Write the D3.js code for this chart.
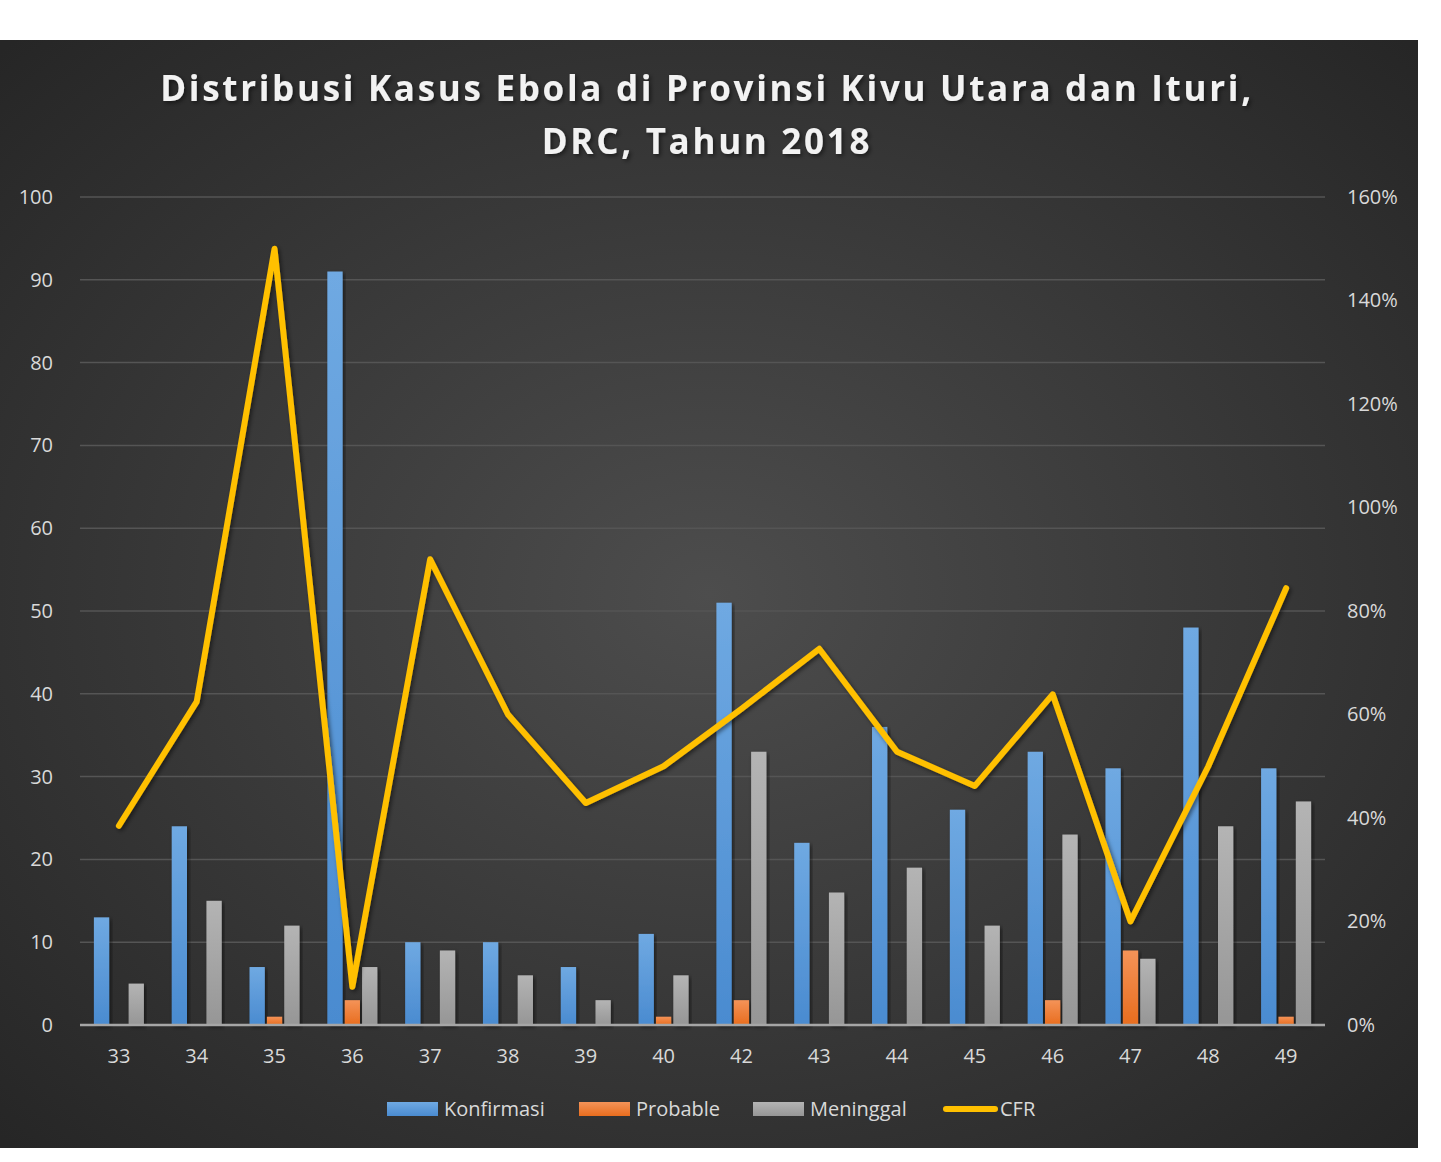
<!DOCTYPE html>
<html>
<head>
<meta charset="utf-8">
<script src="https://cdn.jsdelivr.net/npm/d3@7"></script>
<style>
  body { margin: 0; background: #fff; }
  text { font-family: "Open Sans", "Noto Sans", sans-serif; }
</style>
</head>
<body>
<div id="chart"></div>
<script>
// Chart data
var weeks = ["33", "34", "35", "36", "37", "38", "39", "40", "42", "43", "44", "45", "46", "47", "48", "49"];
var konfirmasi = [13, 24, 7, 91, 10, 10, 7, 11, 51, 22, 36, 26, 33, 31, 48, 31];
var probable = [0, 0, 1, 3, 0, 0, 0, 1, 3, 0, 0, 0, 3, 9, 0, 1];
var meninggal = [5, 15, 12, 7, 9, 6, 3, 6, 33, 16, 19, 12, 23, 8, 24, 27];
var cfr = [0.385, 0.625, 1.50, 0.074, 0.90, 0.60, 0.429, 0.50, 0.611, 0.727, 0.528, 0.462, 0.639, 0.20, 0.50, 0.844];
var leftTicks = [0, 10, 20, 30, 40, 50, 60, 70, 80, 90, 100];
var rightTicks = [0, 0.2, 0.4, 0.6, 0.8, 1.0, 1.2, 1.4, 1.6];
var seriesNames = ["Konfirmasi", "Probable", "Meninggal"];

var svgWidth = 1441;
var svgHeight = 1162;

var margin = { top: 197, right: 116, bottom: 137, left: 80 };
var width = svgWidth - margin.left - margin.right;
var height = svgHeight - margin.top - margin.bottom;

var svg = d3.select("#chart")
    .append("svg")
    .attr("width", svgWidth)
    .attr("height", svgHeight);

var defs = svg.append("defs");

// Background radial gradient
var bg = defs.append("radialGradient")
    .attr("id", "bg")
    .attr("cx", "50%").attr("cy", "50%").attr("r", "70%");
bg.append("stop").attr("offset", "0%").attr("stop-color", "#4d4d4d");
bg.append("stop").attr("offset", "100%").attr("stop-color", "#262626");

// Bar gradients
var barColors = {
    Konfirmasi: ["#6fa9e2", "#4a8bd0"],
    Probable: ["#f49358", "#e86d1e"],
    Meninggal: ["#b4b4b4", "#969696"]
};
seriesNames.forEach(function(name) {
    var g = defs.append("linearGradient")
        .attr("id", "grad-" + name)
        .attr("x1", 0).attr("y1", 0).attr("x2", 0).attr("y2", 1);
    g.append("stop").attr("offset", "0%").attr("stop-color", barColors[name][0]);
    g.append("stop").attr("offset", "100%").attr("stop-color", barColors[name][1]);
});

var shadow = defs.append("filter").attr("id", "shadow")
    .attr("x", "-20%").attr("y", "-20%").attr("width", "140%").attr("height", "140%");
shadow.append("feDropShadow")
    .attr("dx", 2).attr("dy", 2).attr("stdDeviation", 2)
    .attr("flood-color", "#000").attr("flood-opacity", 0.5);

svg.append("rect")
    .attr("x", 0).attr("y", 40)
    .attr("width", 1418).attr("height", 1108)
    .attr("fill", "url(#bg)");

// Title
var title = svg.append("text")
    .attr("text-anchor", "middle")
    .attr("fill", "#f2f2f2")
    .attr("font-size", "35px")
    .attr("font-weight", "bold")
    .attr("letter-spacing", "2.7px")
    .attr("filter", "url(#shadow)");
title.append("tspan").attr("x", 707).attr("y", 101)
    .text("Distribusi Kasus Ebola di Provinsi Kivu Utara dan Ituri,");
title.append("tspan").attr("x", 707).attr("y", 154)
    .text("DRC, Tahun 2018");

var chartGroup = svg.append("g")
    .attr("transform", `translate(${margin.left}, ${margin.top})`);

// Scales
var x0 = d3.scaleBand()
    .domain(weeks)
    .range([0, width]);

var x1 = d3.scaleBand()
    .domain(seriesNames)
    .range([-25, 25])
    .paddingInner(0.12);

var yLeft = d3.scaleLinear().domain([0, 100]).range([height, 0]);
var yRight = d3.scaleLinear().domain([0, 1.6]).range([height, 0]);

// Gridlines
chartGroup.append("g")
    .selectAll("line")
    .data(leftTicks.slice(1))
    .enter()
    .append("line")
    .attr("x1", 0).attr("x2", width)
    .attr("y1", d => yLeft(d)).attr("y2", d => yLeft(d))
    .attr("stroke", "#555555")
    .attr("stroke-width", 1.5);

// Axes
var leftAxis = d3.axisLeft(yLeft).tickValues(leftTicks).tickSize(0).tickPadding(27);
var rightAxis = d3.axisRight(yRight).tickValues(rightTicks).tickSize(0).tickPadding(22)
    .tickFormat(d3.format(".0%"));
var bottomAxis = d3.axisBottom(x0).tickSize(0).tickPadding(24);

var gl = chartGroup.append("g").call(leftAxis);
var gr = chartGroup.append("g").attr("transform", `translate(${width}, 0)`).call(rightAxis);
var gb = chartGroup.append("g").attr("transform", `translate(0, ${height})`).call(bottomAxis);

[gl, gr, gb].forEach(function(g) {
    g.select(".domain").remove();
    g.selectAll("text")
        .attr("fill", "#d9d9d9")
        .attr("font-size", "20px")
        .attr("font-family", "'Open Sans', sans-serif");
});

// Bars
var barData = weeks.map(function(w, i) {
    return [
        { week: w, key: "Konfirmasi", value: konfirmasi[i] },
        { week: w, key: "Probable", value: probable[i] },
        { week: w, key: "Meninggal", value: meninggal[i] }
    ];
});

chartGroup.append("g")
    .selectAll("g")
    .data(barData)
    .enter()
    .append("g")
    .attr("transform", d => `translate(${x0(d[0].week) + x0.bandwidth() / 2}, 0)`)
    .selectAll("rect")
    .data(d => d.filter(b => b.value > 0))
    .enter()
    .append("rect")
    .attr("x", d => x1(d.key))
    .attr("width", x1.bandwidth())
    .attr("y", d => yLeft(d.value))
    .attr("height", d => height - yLeft(d.value))
    .attr("fill", d => "url(#grad-" + d.key + ")")
    .attr("filter", "url(#shadow)");

// Baseline
chartGroup.append("line")
    .attr("x1", 0).attr("x2", width)
    .attr("y1", height).attr("y2", height)
    .attr("stroke", "#a6a6a6")
    .attr("stroke-width", 2.5);

// CFR line
var line = d3.line()
    .x((d, i) => x0(weeks[i]) + x0.bandwidth() / 2)
    .y(d => yRight(d));

chartGroup.append("path")
    .datum(cfr)
    .attr("d", line)
    .attr("fill", "none")
    .attr("stroke", "#ffc000")
    .attr("stroke-width", 6)
    .attr("stroke-linejoin", "round")
    .attr("stroke-linecap", "round")
    .attr("filter", "url(#shadow)");

// Legend
var legend = svg.append("g").attr("transform", "translate(0, 1109)");
var legendItems = [
    { name: "Konfirmasi", x: 387, type: "bar" },
    { name: "Probable", x: 579, type: "bar" },
    { name: "Meninggal", x: 753, type: "bar" },
    { name: "CFR", x: 943, type: "line" }
];
legendItems.forEach(function(item) {
    if (item.type === "bar") {
        legend.append("rect")
            .attr("x", item.x).attr("y", -7)
            .attr("width", 51).attr("height", 14)
            .attr("fill", "url(#grad-" + item.name + ")");
    } else {
        legend.append("line")
            .attr("x1", item.x + 3).attr("x2", item.x + 52)
            .attr("y1", 0).attr("y2", 0)
            .attr("stroke", "#ffc000")
            .attr("stroke-width", 6)
            .attr("stroke-linecap", "round");
    }
    legend.append("text")
        .attr("x", item.x + 57)
        .attr("y", 7)
        .attr("fill", "#d9d9d9")
        .attr("font-size", "20px")
        .text(item.name);
});
</script>
</body>
</html>
